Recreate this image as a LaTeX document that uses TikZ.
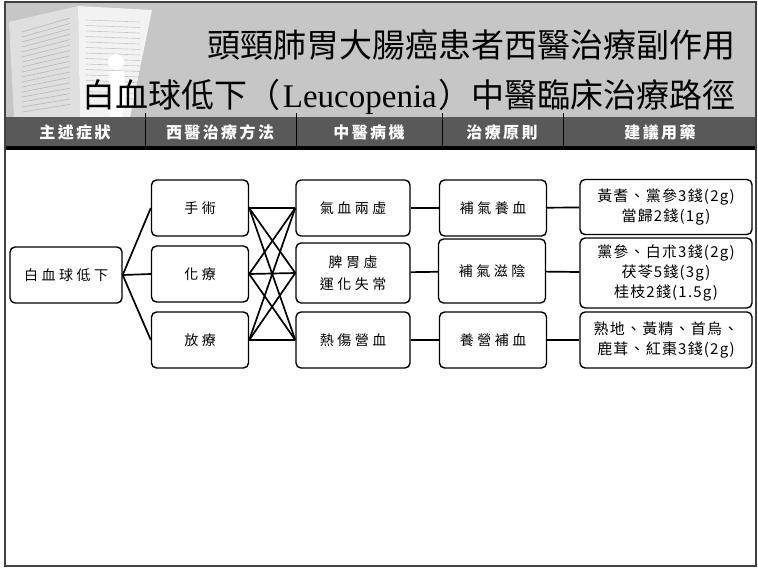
\documentclass[tikz,border=0pt]{standalone}
\usepackage{fontspec}
\setmainfont{Liberation Serif}
\newfontfamily\cjk{Noto Sans CJK TC}
\newfontfamily\cjkwide{Noto Sans CJK TC}[LetterSpace=25]
\newfontfamily\cjkmed{Noto Sans CJK TC}[LetterSpace=8]
\newfontfamily\cjkhead{Noto Sans CJK TC}[LetterSpace=15]
\usetikzlibrary{arrows}

\begin{document}
\begin{tikzpicture}[x=1pt,y=-1pt,
  box/.style={draw,rounded corners=5pt,line width=1.4pt,align=center,
    inner sep=1pt,font=\cjkwide\fontsize{14}{22}\selectfont},
  sym/.style={box,minimum width=112pt,minimum height=56pt},
  trt/.style={box,minimum width=97pt,minimum height=56pt},
  mech/.style={box,minimum width=114pt,minimum height=56pt},
  prin/.style={box,minimum width=107pt,minimum height=56pt},
  med/.style={box,minimum width=172pt,minimum height=56pt,
    font=\cjkmed\fontsize{15}{20}\selectfont},
  link/.style={line width=1.7pt},
  colhead/.style={text=white,font=\cjkhead\bfseries\fontsize{16}{18}\selectfont},
  title/.style={anchor=east,inner sep=0pt,font=\cjk\fontsize{33}{36}\selectfont}]
\useasboundingbox (0,0) rectangle (758,568);

% banner and column bar
\fill[white] (5,2) rectangle (756,566);
\fill[gray!45] (5,2) rectangle (756,117);
% book with a little figure in front
\fill[gray!25] (9,22) -- (78,6) -- (80,117) -- (14,117) -- cycle;
\fill[gray!10] (78,6) -- (152,10) -- (130,117) -- (80,117) -- cycle;
\foreach \i in {0,...,16}
  \draw[gray!55,line width=0.6pt] (22,{32+\i*5}) -- (70,{18+\i*5.4});
\foreach \i in {0,...,14}
  \draw[gray!45,line width=0.6pt] (86,{20+\i*5.5}) -- (140,{22+\i*5.5});
\fill[white] (116,62) circle (8);
\fill[white] (110,71) -- (124,71) -- (126,96) -- (122,117) -- (110,117) -- (108,96) -- cycle;
\fill[black!65] (5,117) rectangle (756,146);
\fill[black] (5,146) rectangle (756,150);
\foreach \x in {145,296,442,563}
  \draw[black,line width=1pt] (\x,113) -- (\x,146);
\draw[black!75,line width=1.6pt] (5,2) rectangle (756,566);

% title lines
\node[title] (t1) at (736,45) {頭頸肺胃大腸癌患者西醫治療副作用};
\node[title] (t2) at (736,97) {白血球低下（\hspace{2pt}\rmfamily Leucopenia\hspace{2pt}\cjk）中醫臨床治療路徑};

% column headings
\node[colhead] (h1) at (75,132) {主述症狀};
\node[colhead] (h2) at (220,132) {西醫治療方法};
\node[colhead] (h3) at (369,132) {中醫病機};
\node[colhead] (h4) at (502,132) {治療原則};
\node[colhead] (h5) at (660,132) {建議用藥};

% boxes
\node[sym] (wbc) at (66,275) {白血球低下};

\node[trt] (op)  at (200,208) {手術};
\node[trt] (chm) at (200,274) {化療};
\node[trt] (rad) at (200,340) {放療};

\node[mech] (qx)  at (353,208) {氣血兩虛};
\node[mech,minimum height=60pt] (pw) at (353,273) {脾胃虛\\運化失常};
\node[mech] (rs)  at (353,340) {熱傷營血};

\node[prin] (bq)  at (493,208) {補氣養血};
\node[prin,minimum height=64pt] (zy) at (492,271) {補氣滋陰};
\node[prin] (yy)  at (493,340) {養營補血};

\node[med,minimum height=55pt] (m1) at (666,207) {黃耆、黨參3錢(2g)\\當歸2錢(1g)};
\node[med,minimum height=70pt] (m2) at (666,273) {黨參、白朮3錢(2g)\\茯苓5錢(3g)\\桂枝2錢(1.5g)};
\node[med] (m3) at (666,340) {熟地、黃精、首烏、\\鹿茸、紅棗3錢(2g)};

% connectors
\foreach \t in {op,chm,rad}
  \draw[link] (wbc.east) -- (\t.west);
\foreach \t in {op,chm,rad}
  \foreach \m in {qx,pw,rs}
    \draw[link] (\t.east) -- (\m.west);
\draw[link] (qx) -- (bq);
\draw[link] (pw) -- (zy);
\draw[link] (rs) -- (yy);
\draw[link] (bq) -- (m1);
\draw[link] (zy) -- (m2);
\draw[link] (yy) -- (m3);
\end{tikzpicture}
\end{document}
